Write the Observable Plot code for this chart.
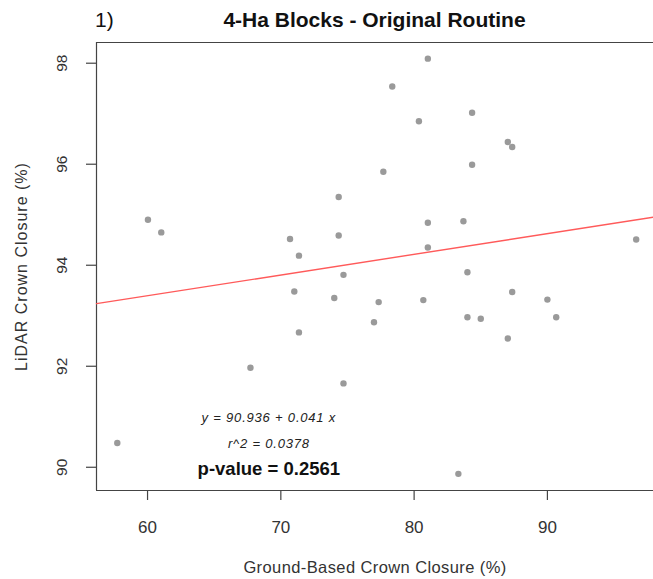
<!DOCTYPE html>
<html>
<head>
<meta charset="utf-8">
<script src="https://cdn.jsdelivr.net/npm/d3@7"></script>
<script src="https://cdn.jsdelivr.net/npm/@observablehq/plot@0.6"></script>
<style>
  html, body { margin: 0; padding: 0; background: #fff; }
  #wrap { position: relative; width: 653px; height: 579px; font-family: "Liberation Sans", Arial, sans-serif; }
  #num { position: absolute; left: 95px; top: 8px; font-size: 21px; color: #111; }
  #title { position: absolute; left: 96px; width: 557px; top: 8px; text-align: center; font-size: 21px; font-weight: bold; color: #111; }
  #chart { position: absolute; left: 0; top: 0; }
</style>
</head>
<body>
<div id="wrap">
  <div id="chart"></div>
  <div id="num">1)</div>
  <div id="title">4-Ha Blocks - Original Routine</div>
</div>
<script>
// Ground-based crown closure (%)
const groundCC = [60.03, 61.03, 70.69, 71.36, 74.34, 74.34, 81.03, 78.36, 84.35, 80.36, 87.03, 87.36,
  84.35, 77.69, 81.03, 83.7, 81.03, 96.66, 74.7, 71.01, 74.01, 71.36, 67.72, 74.7,
  57.73, 84.0, 77.34, 80.69, 76.99, 87.36, 90.0, 84.0, 85.0, 90.66, 87.03, 83.32];
// LiDAR crown closure (%)
const lidarCC = [94.90, 94.65, 94.52, 94.19, 95.35, 94.59, 98.09, 97.54, 97.02, 96.85, 96.44, 96.34,
  95.99, 95.85, 94.84, 94.87, 94.35, 94.51, 93.81, 93.48, 93.35, 92.67, 91.97, 91.66,
  90.48, 93.86, 93.27, 93.31, 92.87, 93.47, 93.32, 92.97, 92.94, 92.97, 92.55, 89.87];
const intercept = 90.936;
const slope = 0.041;
const xTicks = [60, 70, 80, 90];
const yTicks = [90, 92, 94, 96, 98];
const xDomain = [56.17, 97.96];
const yDomain = [89.54, 98.41];
const annoLines = ["y = 90.936 + 0.041 x", "r^2 = 0.0378", "p-value = 0.2561"];
const annoY = [90.98, 90.47, 89.97];
const annoX = 69.1;
const xLabel = "Ground-Based Crown Closure (%)";
const yLabel = "LiDAR Crown Closure (%)";

const pts = groundCC.map((x, i) => ({x, y: lidarCC[i]}));
const fit = xDomain.map(x => ({x, y: intercept + slope * x}));
const anno = annoLines.map((t, i) => ({t, x: annoX, y: annoY[i], i}));

const axisColor = "#444";
const plot = Plot.plot({
  width: 653,
  height: 579,
  marginTop: 42,
  marginBottom: 89,
  marginLeft: 96,
  marginRight: 0,
  style: {fontFamily: "Liberation Sans, Arial, sans-serif", background: "white", color: "#333"},
  x: {domain: xDomain, axis: null},
  y: {domain: yDomain, axis: null},
  marks: [
    Plot.ruleY([yDomain[1]], {stroke: axisColor, strokeWidth: 1.2}),
    Plot.ruleY([yDomain[0]], {stroke: axisColor, strokeWidth: 1.2}),
    Plot.ruleX([xDomain[0]], {stroke: axisColor, strokeWidth: 1.2}),
    Plot.axisX({ticks: xTicks, tickSize: 10, tickPadding: 20, fontSize: 17, stroke: axisColor, strokeWidth: 1.2, label: null, fill: "#333"}),
    Plot.axisY({ticks: yTicks, tickSize: 10, tickPadding: 20, fontSize: 15.5, stroke: axisColor, strokeWidth: 1.2, label: null, tickRotate: -90, fill: "#333"}),
    Plot.text([xLabel], {frameAnchor: "bottom", dy: 82, fontSize: 16.5, fill: "#333"}),
    Plot.text([yLabel], {frameAnchor: "left", textAnchor: "middle", dx: -75, rotate: -90, fontSize: 16, fill: "#333"}),
    Plot.line(fit, {x: "x", y: "y", stroke: "#ff5a5a", strokeWidth: 1.4}),
    Plot.dot(pts, {x: "x", y: "y", r: 3.2, fill: "#9a9a9a", stroke: null}),
    Plot.text(anno.filter(d => d.i < 2), {x: "x", y: "y", text: "t", fontSize: 13, fontStyle: "italic", fill: "#222"}),
    Plot.text(anno.filter(d => d.i === 2), {x: "x", y: "y", text: "t", fontSize: 18.5, fontWeight: "bold", fill: "#111"})
  ]
});
// slightly wider letter spacing for some labels, as in the reference
d3.select(plot).selectAll("text").filter(function() {
  const s = this.textContent;
  return s === annoLines[0] || s === annoLines[1];
}).style("letter-spacing", "0.8px");
d3.select(plot).selectAll("text").filter(function() {
  return this.textContent === xLabel;
}).style("letter-spacing", "0.4px");
d3.select(plot).selectAll("text").filter(function() {
  return this.textContent === yLabel;
}).style("letter-spacing", "1px");
document.getElementById("chart").appendChild(plot);
</script>
</body>
</html>
